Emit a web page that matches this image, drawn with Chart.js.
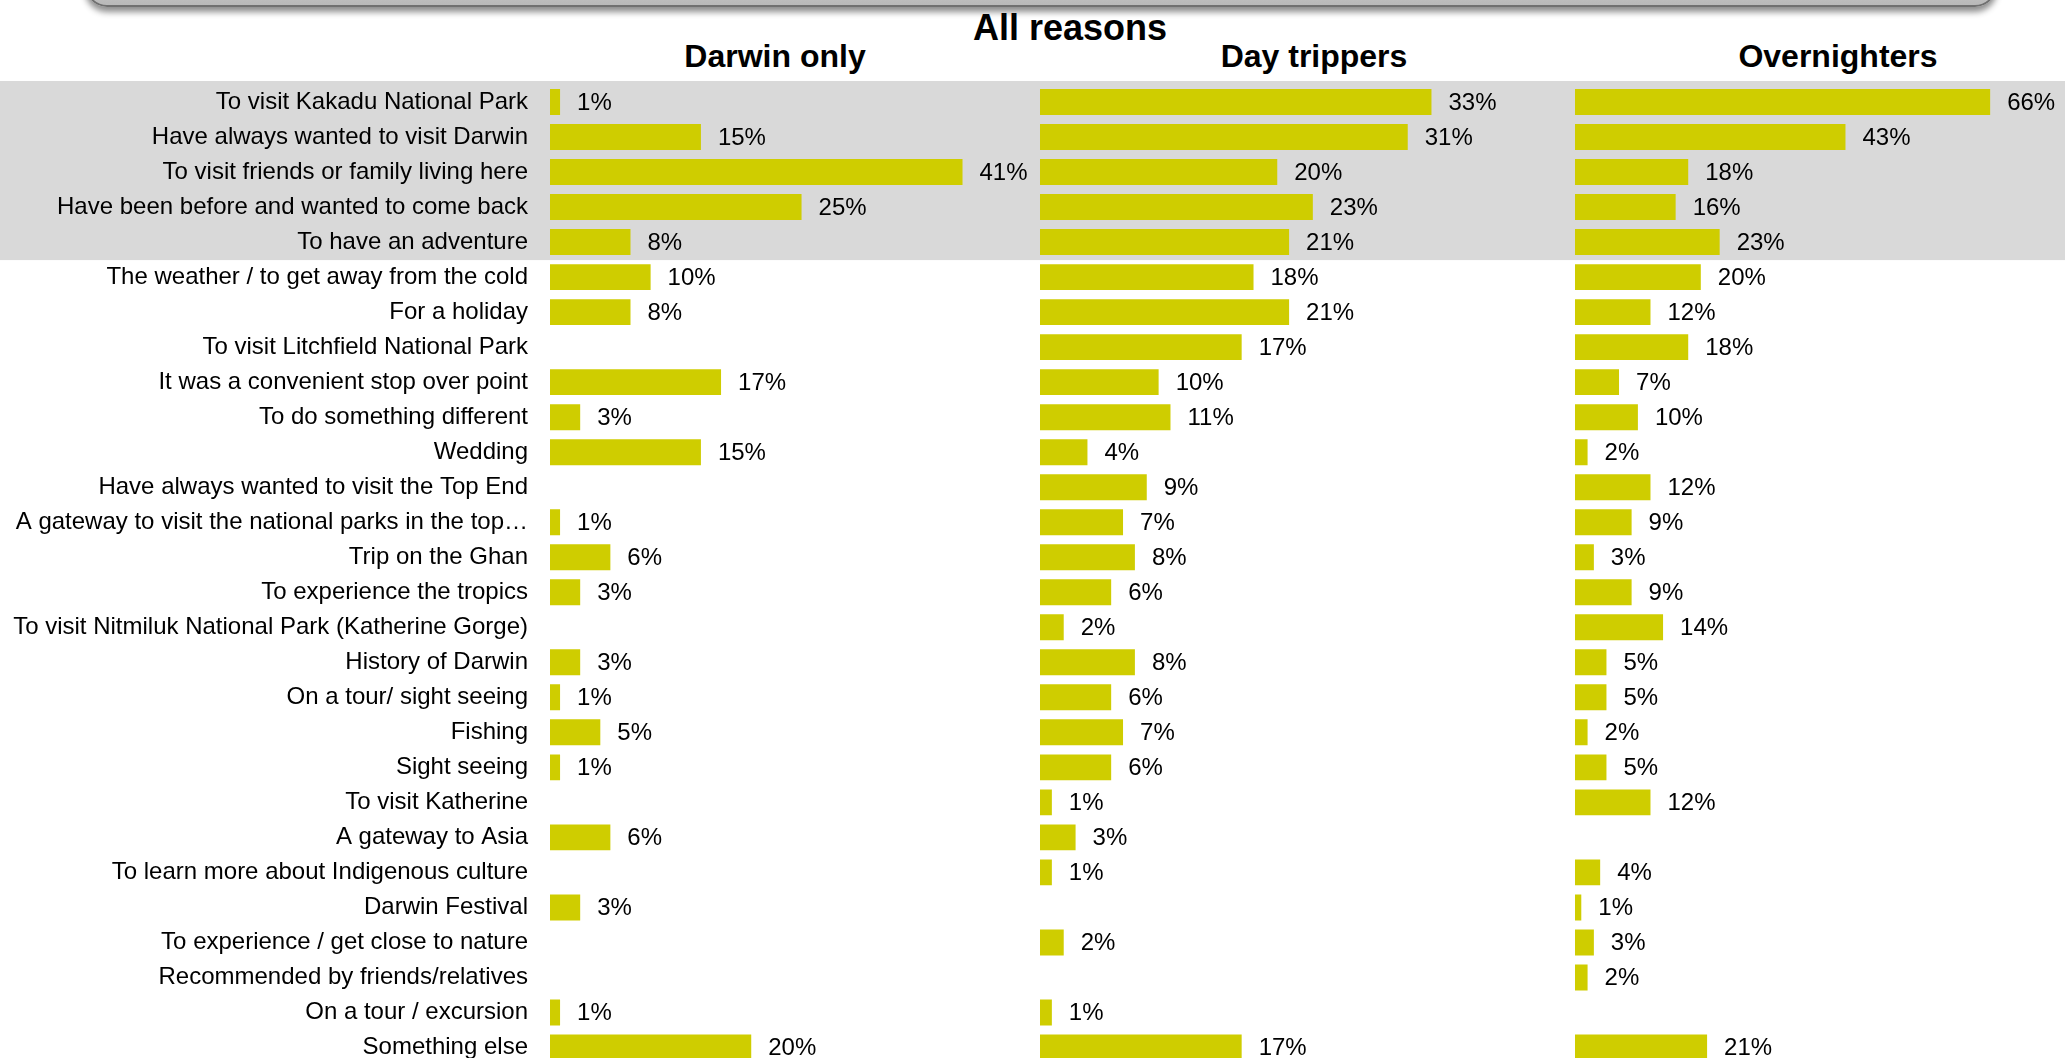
<!DOCTYPE html>
<html>
<head>
<meta charset="utf-8">
<script src="https://cdn.jsdelivr.net/npm/chart.js@4.4.1/dist/chart.umd.min.js"></script>
<style>
  html, body { margin: 0; padding: 0; background: #fff; overflow: hidden; }
  body { width: 2065px; height: 1058px; position: relative; font-family: "Liberation Sans", Arial, sans-serif; }
  .topbox {
    position: absolute; left: 85px; top: -60px; width: 1908px; height: 63px;
    border: 2px solid #707070; border-radius: 22px;
    background: linear-gradient(#e4e4e4, #b9b9b9);
    box-shadow: 0 5px 6px rgba(0, 0, 0, 0.45);
  }
  .title { position: absolute; font-weight: bold; color: #000; line-height: 1; white-space: nowrap; transform: translateX(-50%); }
  .panel { position: absolute; top: 0; height: 1065px; }
</style>
</head>
<body>
<div class="topbox"></div>
<div class="title" style="left:1070px; top:10px; font-size:36px;">All reasons</div>
<div class="title" style="left:775px; top:40px; font-size:32px;">Darwin only</div>
<div class="title" style="left:1314px; top:40px; font-size:32px;">Day trippers</div>
<div class="title" style="left:1838px; top:40px; font-size:32px;">Overnighters</div>

<div class="panel" style="left:0; width:1040px;"><canvas id="darwinChart"></canvas></div>
<div class="panel" style="left:1040px; width:535px;"><canvas id="dayChart"></canvas></div>
<div class="panel" style="left:1575px; width:490px;"><canvas id="overChart"></canvas></div>

<script>
const reasons = [
  "To visit Kakadu National Park",
  "Have always wanted to visit Darwin",
  "To visit friends or family living here",
  "Have been before and wanted to come back",
  "To have an adventure",
  "The weather / to get away from the cold",
  "For a holiday",
  "To visit Litchfield National Park",
  "It was a convenient stop over point",
  "To do something different",
  "Wedding",
  "Have always wanted to visit the Top End",
  "A gateway to visit the national parks in the top\u2026",
  "Trip on the Ghan",
  "To experience the tropics",
  "To visit Nitmiluk National Park (Katherine Gorge)",
  "History of Darwin",
  "On a tour/ sight seeing",
  "Fishing",
  "Sight seeing",
  "To visit Katherine",
  "A gateway to Asia",
  "To learn more about Indigenous culture",
  "Darwin Festival",
  "To experience / get close to nature",
  "Recommended by friends/relatives",
  "On a tour / excursion",
  "Something else"
];

const darwinOnly = [1, 15, 41, 25, 8, 10, 8, null, 17, 3, 15, null, 1, 6, 3, null, 3, 1, 5, 1, null, 6, null, 3, null, null, 1, 20];
const dayTrippers = [33, 31, 20, 23, 21, 18, 21, 17, 10, 11, 4, 9, 7, 8, 6, 2, 8, 6, 7, 6, 1, 3, 1, null, 2, null, 1, 17];
const overnighters = [66, 43, 18, 16, 23, 20, 12, 18, 7, 10, 2, 12, 9, 3, 9, 14, 5, 5, 2, 5, 12, null, 4, 1, 3, 2, null, 21];

// top five reasons get the grey band
const highlightedRows = 5;

const BAR_COLOR = "#CFCD00";
const BAND_COLOR = "#D9D9D9";
const FONT = "Liberation Sans, Arial, sans-serif";

Chart.defaults.font.family = FONT;
Chart.defaults.color = "#000";

// grey background behind the first rows, across the whole canvas
const bandPlugin = {
  id: "band",
  beforeDraw(chart) {
    const y = chart.scales.y;
    const ctx = chart.ctx;
    const top = y.getPixelForValue(0) - 21;
    const bottom = y.getPixelForValue(highlightedRows - 1) + 18;
    ctx.save();
    ctx.fillStyle = BAND_COLOR;
    ctx.fillRect(0, top, chart.width, bottom - top);
    ctx.restore();
  }
};

// percentage label after each bar
const valueLabels = {
  id: "valueLabels",
  afterDatasetsDraw(chart) {
    const ctx = chart.ctx;
    ctx.save();
    ctx.font = "24px " + FONT;
    ctx.fillStyle = "#000";
    ctx.textAlign = "left";
    ctx.textBaseline = "middle";
    const meta = chart.getDatasetMeta(0);
    const values = chart.data.datasets[0].data;
    meta.data.forEach((bar, i) => {
      if (values[i] === null) return;
      ctx.fillText(values[i] + "%", bar.x + 17, bar.y + 1);
    });
    ctx.restore();
  }
};

function makeChart(id, values, xMax, showLabels) {
  return new Chart(document.getElementById(id), {
    type: "bar",
    data: {
      labels: reasons,
      datasets: [{
        data: values,
        backgroundColor: BAR_COLOR,
        borderWidth: 0,
        barPercentage: 0.74,
        categoryPercentage: 1.0
      }]
    },
    options: {
      indexAxis: "y",
      responsive: true,
      maintainAspectRatio: false,
      animation: false,
      layout: { padding: { top: 84.5, bottom: 0, left: 0, right: 0 } },
      plugins: { legend: { display: false }, tooltip: { enabled: false } },
      scales: {
        x: { display: false, min: 0, max: xMax },
        y: {
          display: showLabels,
          grid: { display: false, drawTicks: false },
          border: { display: false },
          ticks: { font: { size: 24 }, color: "#000", padding: 22, autoSkip: false },
          afterFit(scale) {
            if (!showLabels) return;
            scale.width = 550;
            // keep rows aligned with the other two panels
            scale.paddingTop = 0;
            scale.paddingBottom = 0;
          }
        }
      }
    },
    plugins: [bandPlugin, valueLabels]
  });
}

makeChart("darwinChart", darwinOnly, 48.7, true);
makeChart("dayChart", dayTrippers, 45.1, false);
makeChart("overChart", overnighters, 77.9, false);
</script>
</body>
</html>
